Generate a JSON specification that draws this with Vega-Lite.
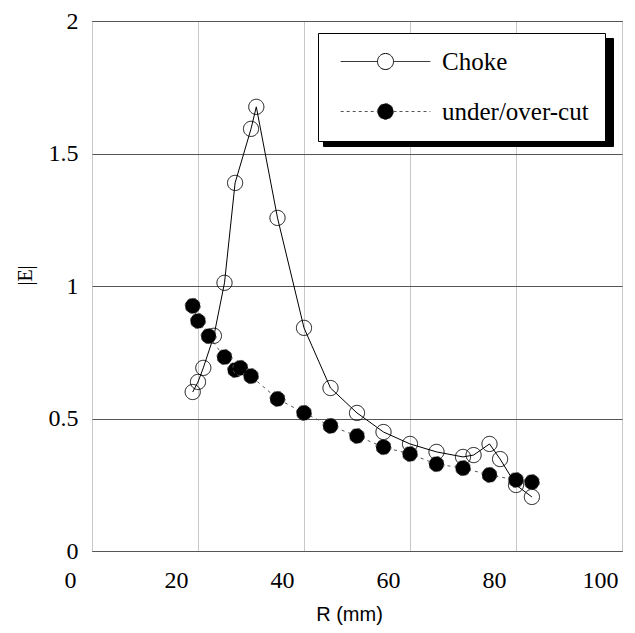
{
  "$schema": "https://vega.github.io/schema/vega-lite/v6.json",
  "width": 530,
  "height": 530,
  "autosize": {"type": "none"},
  "padding": {"left": 92, "top": 21, "right": 13, "bottom": 82},
  "background": "white",
  "config": {
    "view": {"stroke": "black", "strokeWidth": 1},
    "axis": {"labelColor": "black", "titleColor": "black", "titleFontWeight": "normal", "domain": false, "ticks": false, "tickSize": 0},
    "legend": {"strokeColor": "black", "fillColor": "white"}
  },
  "data": {
    "values": [
      {"series": "Choke", "R": 19, "E": 0.60},
      {"series": "Choke", "R": 20, "E": 0.638},
      {"series": "Choke", "R": 21, "E": 0.691},
      {"series": "Choke", "R": 23, "E": 0.812},
      {"series": "Choke", "R": 25, "E": 1.012},
      {"series": "Choke", "R": 27, "E": 1.389},
      {"series": "Choke", "R": 30, "E": 1.593},
      {"series": "Choke", "R": 31, "E": 1.676},
      {"series": "Choke", "R": 35, "E": 1.257},
      {"series": "Choke", "R": 40, "E": 0.842},
      {"series": "Choke", "R": 45, "E": 0.615},
      {"series": "Choke", "R": 50, "E": 0.521},
      {"series": "Choke", "R": 55, "E": 0.449},
      {"series": "Choke", "R": 60, "E": 0.404},
      {"series": "Choke", "R": 65, "E": 0.374},
      {"series": "Choke", "R": 70, "E": 0.355},
      {"series": "Choke", "R": 72, "E": 0.362},
      {"series": "Choke", "R": 75, "E": 0.404},
      {"series": "Choke", "R": 77, "E": 0.347},
      {"series": "Choke", "R": 80, "E": 0.249},
      {"series": "Choke", "R": 83, "E": 0.204},
      {"series": "under/over-cut", "R": 19, "E": 0.925},
      {"series": "under/over-cut", "R": 20, "E": 0.868},
      {"series": "under/over-cut", "R": 22, "E": 0.811},
      {"series": "under/over-cut", "R": 25, "E": 0.732},
      {"series": "under/over-cut", "R": 27, "E": 0.683},
      {"series": "under/over-cut", "R": 28, "E": 0.691},
      {"series": "under/over-cut", "R": 30, "E": 0.660},
      {"series": "under/over-cut", "R": 35, "E": 0.574},
      {"series": "under/over-cut", "R": 40, "E": 0.521},
      {"series": "under/over-cut", "R": 45, "E": 0.472},
      {"series": "under/over-cut", "R": 50, "E": 0.434},
      {"series": "under/over-cut", "R": 55, "E": 0.392},
      {"series": "under/over-cut", "R": 60, "E": 0.366},
      {"series": "under/over-cut", "R": 65, "E": 0.328},
      {"series": "under/over-cut", "R": 70, "E": 0.313},
      {"series": "under/over-cut", "R": 75, "E": 0.287},
      {"series": "under/over-cut", "R": 80, "E": 0.268},
      {"series": "under/over-cut", "R": 83, "E": 0.260}
    ]
  },
  "encoding": {
    "x": {
      "field": "R", "type": "quantitative",
      "scale": {"domain": [0, 100], "nice": false},
      "axis": {
        "values": [0, 20, 40, 60, 80, 100],
        "grid": true, "gridColor": "#c8c8c8", "gridWidth": 1,
        "labelFont": "Liberation Serif, Times New Roman, serif", "labelFontSize": 24,
        "labelFlush": false, "labelOffset": -22, "labelPadding": 17,
        "title": "R (mm)", "titleFont": "Liberation Sans, Arial, sans-serif", "titleFontSize": 20,
        "titlePadding": 12, "titleX": 257
      }
    },
    "y": {
      "field": "E", "type": "quantitative",
      "scale": {"domain": [0, 2], "nice": false},
      "axis": {
        "values": [0, 0.5, 1, 1.5, 2], "format": "~g",
        "grid": true, "gridColor": "#555555", "gridWidth": 1,
        "labelFont": "Liberation Serif, Times New Roman, serif", "labelFontSize": 24, "labelPadding": 14,
        "title": "|E|", "titleFont": "Liberation Serif, Times New Roman, serif", "titleFontSize": 20,
        "titleX": -67, "titleY": 254, "titleBaseline": "middle"
      }
    }
  },
  "layer": [
    {
      "transform": [{"filter": "datum.series === 'Choke'"}],
      "mark": {"type": "line", "color": "black", "strokeWidth": 1}
    },
    {
      "transform": [{"filter": "datum.series !== 'Choke'"}],
      "mark": {"type": "line", "color": "#555555", "strokeWidth": 1, "strokeDash": [3, 4]}
    },
    {
      "mark": {"type": "point", "shape": "circle", "size": 0, "opacity": 0},
      "encoding": {
        "shape": {
          "field": "series", "type": "nominal",
          "scale": {"range": ["circle", "circle"]},
          "legend": {
            "title": null,
            "orient": "none", "legendX": 231, "legendY": 17,
            "direction": "vertical",
            "padding": 16, "zindex": 1,
            "fillColor": "black", "strokeColor": "black",
            "symbolSize": 441, "symbolStrokeWidth": 1, "symbolFillColor": "black", "symbolStrokeColor": "black", "symbolOpacity": 1,
            "symbolOffset": 189, "labelOffset": 44,
            "labelExpr": "''",
            "labelFont": "Liberation Serif, Times New Roman, serif", "labelFontSize": 25, "labelColor": "black",
            "rowPadding": 24
          }
        }
      }
    },
    {
      "mark": {"type": "point", "shape": "circle", "size": 230, "strokeWidth": 1, "opacity": 1},
      "encoding": {
        "fill": {
          "field": "series", "type": "nominal",
          "scale": {"domain": ["Choke", "under/over-cut"], "range": ["transparent", "black"]},
          "legend": {
            "title": null,
            "orient": "none", "legendX": 226, "legendY": 12,
            "direction": "vertical",
            "padding": 16, "zindex": 2,
            "symbolType": "M-5.6,0H-1M1,0H5.6M-1,0A1,1,0,1,1,1,0A1,1,0,1,1,-1,0Z",
            "symbolSize": 256, "symbolStrokeWidth": 1,
            "symbolOffset": 39, "labelOffset": 44,
            "labelFont": "Liberation Serif, Times New Roman, serif", "labelFontSize": 25, "labelColor": "black",
            "rowPadding": 24
          }
        },
        "stroke": {
          "field": "series", "type": "nominal",
          "scale": {"domain": ["Choke", "under/over-cut"], "range": ["black", "#555555"]},
          "legend": {
            "title": null,
            "orient": "none", "legendX": 226, "legendY": 12,
            "direction": "vertical",
            "padding": 16, "zindex": 2,
            "symbolType": "M-5.6,0H-1M1,0H5.6M-1,0A1,1,0,1,1,1,0A1,1,0,1,1,-1,0Z",
            "symbolSize": 256, "symbolStrokeWidth": 1,
            "symbolOffset": 39, "labelOffset": 44,
            "labelFont": "Liberation Serif, Times New Roman, serif", "labelFontSize": 25, "labelColor": "black",
            "rowPadding": 24
          }
        },
        "strokeDash": {
          "field": "series", "type": "nominal",
          "scale": {"domain": ["Choke", "under/over-cut"], "range": [[1, 0], [3, 3]]},
          "legend": {
            "title": null,
            "orient": "none", "legendX": 226, "legendY": 12,
            "direction": "vertical",
            "padding": 16, "zindex": 2,
            "symbolType": "M-5.6,0H-1M1,0H5.6M-1,0A1,1,0,1,1,1,0A1,1,0,1,1,-1,0Z",
            "symbolSize": 256, "symbolStrokeWidth": 1,
            "symbolOffset": 39, "labelOffset": 44,
            "labelFont": "Liberation Serif, Times New Roman, serif", "labelFontSize": 25, "labelColor": "black",
            "rowPadding": 24
          }
        }
      }
    }
  ]
}
